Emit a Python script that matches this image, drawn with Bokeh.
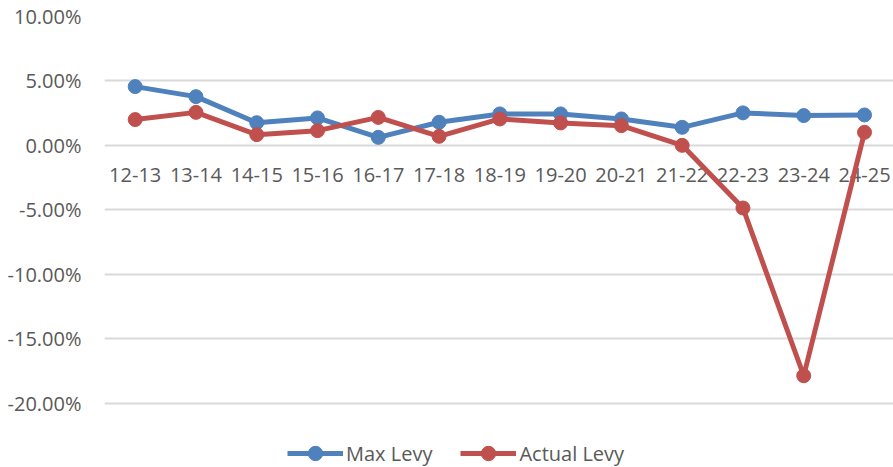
from bokeh.plotting import figure
from bokeh.models import (Range1d, FixedTicker, NumeralTickFormatter, Legend, LegendItem,
                          ColumnDataSource)
from bokeh.core.properties import value
from bokeh.embed import file_html
from bokeh.resources import INLINE

categories = ["12-13", "13-14", "14-15", "15-16", "16-17", "17-18", "18-19",
              "19-20", "20-21", "21-22", "22-23", "23-24", "24-25"]
max_levy = [0.0456, 0.0378, 0.0176, 0.0213, 0.0062, 0.0179, 0.0244,
            0.0244, 0.0205, 0.0140, 0.0252, 0.0231, 0.0236]
actual_levy = [0.0200, 0.0256, 0.0083, 0.0114, 0.0217, 0.0070, 0.0205,
               0.0174, 0.0153, 0.0000, -0.0486, -0.1788, 0.0101]
y_ticks = [0.10, 0.05, 0.0, -0.05, -0.10, -0.15, -0.20]

FONT = "Open Sans"
TXT = "#595959"
BLUE = "#4f81bd"
RED = "#c0504d"

xs = list(range(len(categories)))

p = figure(width=893, height=467, output_backend="svg", toolbar_location=None,
           x_range=Range1d(-0.505, len(categories) - 0.523),
           y_range=Range1d(-0.25, max(y_ticks)),
           min_border_left=104, min_border_right=0, min_border_top=16,
           min_border_bottom=0)
p.outline_line_color = None
p.background_fill_color = "white"
p.border_fill_color = "white"

# y axis
p.yaxis.ticker = FixedTicker(ticks=y_ticks)
p.yaxis.formatter = NumeralTickFormatter(format="0.00%")
p.yaxis.axis_line_color = None
p.yaxis.major_tick_line_color = None
p.yaxis.minor_tick_line_color = None
p.yaxis.major_label_standoff = 17
p.yaxis.major_label_text_font = FONT
p.yaxis.major_label_text_font_size = "20px"
p.yaxis.major_label_text_color = TXT

# category labels sit just under the zero line
p.xaxis.visible = False
p.xgrid.grid_line_color = None
p.ygrid.ticker = FixedTicker(ticks=y_ticks)
p.ygrid.grid_line_color = "#d9d9d9"
p.ygrid.grid_line_width = 2

lab_src = ColumnDataSource(dict(x=xs, y=[0.0] * len(xs), t=categories))
p.text(x="x", y="y", text="t", source=lab_src, text_align="center",
       text_baseline="middle", y_offset=30, text_font=value(FONT),
       text_font_size="20px", text_color=TXT)

l1 = p.line(xs, max_levy, line_color=BLUE, line_width=5, line_join="round")
s1 = p.scatter(xs, max_levy, size=14, fill_color=BLUE, line_color=BLUE)
l2 = p.line(xs, actual_levy, line_color=RED, line_width=5, line_join="round")
s2 = p.scatter(xs, actual_levy, size=14, fill_color=RED, line_color=RED)

legend = Legend(items=[LegendItem(label="Max Levy", renderers=[l1, s1]),
                       LegendItem(label="Actual Levy", renderers=[l2, s2])],
                orientation="horizontal", location=(183, -4),
                glyph_width=56, glyph_height=36, label_standoff=3, spacing=28,
                padding=0, margin=0,
                border_line_color=None, background_fill_alpha=0,
                label_text_font=FONT, label_text_font_size="20px",
                label_text_color=TXT)
p.add_layout(legend, "center")

open("out.html", "w").write(file_html(p, INLINE))
